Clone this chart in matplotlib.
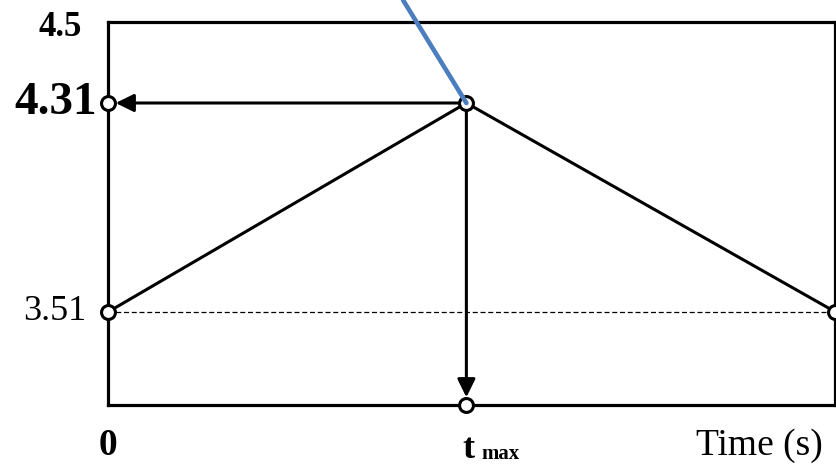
import numpy as np
import matplotlib.pyplot as plt

plt.rcParams['font.family'] = ['Liberation Serif', 'DejaVu Serif']

# concentration profile: rise to the peak at t_max, then decay back
time_pts = [0.0, 1.0, 2.03]      # start, t_max, end of run
level_pts = [3.51, 4.31, 3.51]
t_max = time_pts[1]
c_max = level_pts[1]
c_base = level_pts[0]

y_tick_vals = [3.51, 4.31, 4.5]
y_tick_text = ['3.51', '4.31', '4.5']
y_tick_bold = [False, True, True]
y_bottom = 3.15

# schematic (piecewise-linear) concentration scale
scale_vals = [2.0, 3.15, 3.51, 4.31, 4.5, 6.0]
scale_pos = [-297.0, 0.0, 93.0, 302.0, 383.0, 1022.0]


def fwd(y):
    return np.interp(y, scale_vals, scale_pos)


def inv(p):
    return np.interp(p, scale_pos, scale_vals)


fig = plt.figure(figsize=(8.37, 4.68), dpi=100)
ax = fig.add_axes([108 / 837, 63 / 468, 727.5 / 837, 383 / 468])
ax.set_yscale('function', functions=(fwd, inv))
ax.set_xlim(time_pts[0], time_pts[-1])
ax.set_ylim(y_bottom, y_tick_vals[-1])
ax.set_xticks([])
ax.set_yticks([])
for sp in ax.spines.values():
    sp.set_linewidth(2.3)

# baseline level
ax.plot([time_pts[0], time_pts[-1]], [c_base, c_base], color='k', lw=0.9,
        ls=(0, (4, 2.2)), zorder=2)

# profile
ax.plot(time_pts, level_pts, color='k', lw=2.2, zorder=3)

# arrows from the peak to both axes
arrow = dict(arrowstyle='-|>,head_length=0.55,head_width=0.27', color='k',
             lw=2.2, shrinkA=0, shrinkB=5.5, mutation_scale=20)
ax.annotate('', xy=(time_pts[0], c_max), xytext=(t_max, c_max),
            arrowprops=arrow, zorder=3)
ax.annotate('', xy=(t_max, y_bottom), xytext=(t_max, c_max),
            arrowprops=arrow, zorder=3)

# open circles
circ_x = time_pts + [time_pts[0], t_max]
circ_y = level_pts + [c_max, y_bottom]
ax.plot(circ_x, circ_y, 'o', ms=10, mfc='white', mec='k', mew=2.2,
        clip_on=False, zorder=5)

# pointer line coming in from above
ax.annotate('', xy=(t_max, c_max), xytext=(403 / 837, 1.0),
            textcoords='figure fraction',
            arrowprops=dict(arrowstyle='-', color='#4a7ebf', lw=3.3,
                            shrinkA=0, shrinkB=0),
            zorder=6)

# y labels
y_offsets = [(-16, 0), (-8, 0), (-19, -4)]
y_sizes = [26, 34, 25]
for val, txt, bold, off, fs in zip(y_tick_vals, y_tick_text, y_tick_bold,
                                   y_offsets, y_sizes):
    ax.annotate(txt, xy=(0, val), xycoords=ax.get_yaxis_transform(),
                xytext=off, textcoords='offset points', ha='right',
                va='center', fontsize=fs,
                fontweight='bold' if bold else 'normal', annotation_clip=False)

# x labels
ax.annotate('0', xy=(time_pts[0], 0), xycoords=ax.get_xaxis_transform(),
            xytext=(0, -29), textcoords='offset points', ha='center',
            va='center', fontsize=27, fontweight='bold')
ax.annotate('t', xy=(t_max, 0), xycoords=ax.get_xaxis_transform(),
            xytext=(-3, -32), textcoords='offset points', ha='left',
            va='center', fontsize=26, fontweight='bold')
ax.annotate('max', xy=(t_max, 0), xycoords=ax.get_xaxis_transform(),
            xytext=(11, -35), textcoords='offset points', ha='left',
            va='center', fontsize=15, fontweight='bold')
ax.text(0.895, -0.105, 'Time (s)', transform=ax.transAxes, ha='center',
        va='center', fontsize=27)

fig.savefig('out.png', dpi=100)
